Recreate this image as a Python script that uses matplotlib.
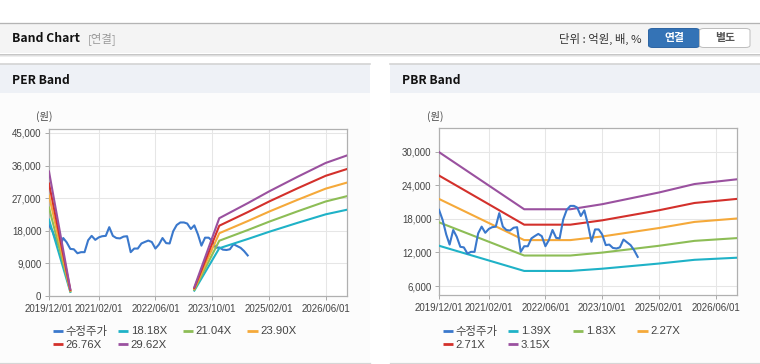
import matplotlib
matplotlib.use('Agg')
import matplotlib.pyplot as plt
import matplotlib.dates as mdates
from matplotlib.patches import Rectangle, FancyBboxPatch
from matplotlib.lines import Line2D
from matplotlib.ticker import FuncFormatter
import numpy as np
import pandas as pd

plt.rcParams['font.family'] = ['Liberation Sans', 'Noto Sans CJK KR', 'DejaVu Sans']

# ---------------- data ----------------
price_start = '2019-12-01'
price = [19600, 17800, 15200, 13400, 16000, 14800, 13000, 12900, 11800, 12100,
         12100, 15400, 16600, 15500, 16200, 16500, 16600, 19000, 16600, 16000,
         15900, 16400, 16500, 12100, 13100, 13100, 14500, 14900, 15300, 14900,
         13100, 14200, 16000, 14600, 14500, 17900, 19600, 20300, 20300, 20000,
         18500, 19500, 17000, 13900, 16100, 16100, 15200, 13300, 13400, 12800,
         12700, 12900, 14300, 13800, 13300, 12400, 11200]

per_dates = ['2019-12-01', '2020-06-01', '2020-07-01', '2023-05-01', '2023-12-01',
             '2024-08-01', '2025-02-01', '2025-10-01', '2026-06-01', '2026-12-01']
eps = [1160, 62, np.nan, 82, 725, 865, 975, 1110, 1240, 1310]
per_mult = [18.18, 21.04, 23.90, 26.76, 29.62]
per_labels = ['수정주가', '18.18X', '21.04X', '23.90X', '26.76X', '29.62X']

pbr_dates = ['2019-12-01', '2021-12-01', '2023-01-01', '2023-10-01',
             '2025-02-01', '2025-12-01', '2026-12-01']
bps = [9490, 6254, 6254, 6540, 7206, 7683, 7952]
pbr_mult = [1.39, 1.83, 2.27, 2.71, 3.15]
pbr_labels = ['수정주가', '1.39X', '1.83X', '2.27X', '2.71X', '3.15X']

xtick_dates = ['2019-12-01', '2021-02-01', '2022-06-01', '2023-10-01', '2025-02-01', '2026-06-01']
per_yticks = [0, 9000, 18000, 27000, 36000, 45000]
pbr_yticks = [6000, 12000, 18000, 24000, 30000]

colors = ['#3a78cc', '#1fb2c7', '#8dbd56', '#f5a93a', '#d3302b', '#9a519f']

# ---------------- figure ----------------
W, H = 760, 364
fig = plt.figure(figsize=(W / 100, H / 100), dpi=100)
fig.patch.set_facecolor('white')

BOLD = ['Noto Sans CJK KR', 'DejaVu Sans']


def fx(x):
    return x / W


def fy(y):
    return 1 - y / H


def rect(x0, y0, x1, y1, z=-5, **kw):
    fig.add_artist(Rectangle((fx(x0), fy(y1)), (x1 - x0) / W, (y1 - y0) / H,
                             transform=fig.transFigure, zorder=z, **kw))


def hline(x0, x1, y, color, lw=1.0, z=-4):
    fig.add_artist(Line2D([fx(x0), fx(x1)], [fy(y), fy(y)], color=color, lw=lw * 0.72,
                          transform=fig.transFigure, zorder=z))


# header bar
hline(0, 760, 22.5, '#b4b4b4', 1.3)
rect(0, 23, 760, 53, facecolor='#f4f4f4', edgecolor='none')
hline(0, 760, 53.5, '#c6c6c6', 1)
hline(0, 760, 54.5, '#dedede', 1)
hline(0, 760, 55.5, '#eeeeee', 1)

fig.text(fx(12), fy(38), 'Band Chart', fontsize=8.8, fontweight='bold', color='#111',
         family=BOLD, va='center', ha='left')
fig.text(fx(88), fy(38.5), '[연결]', fontsize=8.2, color='#999999',
         family=['Noto Sans CJK KR'], va='center', ha='left')
fig.text(fx(642), fy(38.5), '단위 : 억원, 배, %', fontsize=8.2, color='#333333',
         family=['Noto Sans CJK KR'], va='center', ha='right')

# buttons
fig.add_artist(FancyBboxPatch((fx(648.5), fy(47.5)), (699.5 - 648.5) / W, (47.5 - 28.5) / H,
                              boxstyle='round,pad=0,rounding_size=0.006',
                              transform=fig.transFigure, facecolor='#3473b6',
                              edgecolor='#2c64a3', lw=0.7, zorder=2))
fig.add_artist(FancyBboxPatch((fx(699.5), fy(47.5)), (750 - 699.5) / W, (47.5 - 28.5) / H,
                              boxstyle='round,pad=0,rounding_size=0.006',
                              transform=fig.transFigure, facecolor='white',
                              edgecolor='#bdbdbd', lw=0.7, zorder=2))
fig.text(fx(674), fy(38.5), '연결', fontsize=7.8, fontweight='bold', color='white',
         family=BOLD, va='center', ha='center', zorder=3)
fig.text(fx(725), fy(38.5), '별도', fontsize=7.8, fontweight='bold', color='#555555',
         family=BOLD, va='center', ha='center', zorder=3)

# panels
for (px0, px1, title) in [(0, 370, 'PER Band'), (390, 760, 'PBR Band')]:
    rect(px0, 64, px1, 93, facecolor='#eef1f6', edgecolor='none')
    hline(px0, px1, 64, '#d2d2d2', 1.6)
    rect(px0, 93, px1, 362, facecolor='#fcfcfc', edgecolor='none')
    hline(px0, px1, 362.5, '#d6d6d6', 1.3)
    fig.text(fx(px0 + 12), fy(80), title, fontsize=8.7, fontweight='bold', color='#111',
             family=BOLD, va='center', ha='left')

# ---------------- axes ----------------
price_dates = pd.date_range(price_start, periods=len(price), freq='MS')
xmin = pd.Timestamp('2019-12-01')
xmax = pd.Timestamp('2026-12-01')


def make_ax(l, r, t, b):
    return fig.add_axes([fx(l), fy(b), (r - l) / W, (b - t) / H])


def style(ax, yticks, ylim):
    ax.set_facecolor('white')
    ax.set_xlim(xmin, xmax)
    ax.set_ylim(*ylim)
    ax.set_xticks(pd.to_datetime(xtick_dates))
    ax.xaxis.set_major_formatter(mdates.DateFormatter('%Y/%m/%d'))
    ax.set_yticks(yticks)
    ax.yaxis.set_major_formatter(FuncFormatter(lambda v, p: f'{int(v):,}'))
    ax.grid(True, color='#e6e6e6', lw=0.75)
    ax.set_axisbelow(True)
    for s in ax.spines.values():
        s.set_color('#b0b0b0')
        s.set_linewidth(0.9)
    ax.tick_params(axis='both', labelsize=7.0, colors='#aaaaaa', labelcolor='#444444',
                   length=3, width=0.7)
    ax.tick_params(axis='x', pad=2.5)
    ax.tick_params(axis='y', pad=2.5)


ax1 = make_ax(49, 347, 129, 296)
style(ax1, per_yticks, (0, 46100))
ax1.plot(price_dates, price, color=colors[0], lw=1.5, zorder=3)
per_d = pd.to_datetime(per_dates)
for i, m in enumerate(per_mult):
    ax1.plot(per_d, np.array(eps) * m, color=colors[i + 1], lw=1.5, zorder=4 + i)

ax2 = make_ax(439, 737, 128, 295)
style(ax2, pbr_yticks, (4400, 34200))
ax2.plot(price_dates, price, color=colors[0], lw=1.5, zorder=9)
pbr_d = pd.to_datetime(pbr_dates)
for i, m in enumerate(pbr_mult):
    ax2.plot(pbr_d, np.array(bps) * m, color=colors[i + 1], lw=1.5, zorder=3 + i)

for xc in (44, 435):
    fig.text(fx(xc), fy(116), '(원)', fontsize=7.4, color='#444444',
             family=['Noto Sans CJK KR'], va='center', ha='center')

# ---------------- legends ----------------
def legend(x0, labels):
    offs = [0, 65, 130, 194.5]
    for i, lab in enumerate(labels):
        row, col = divmod(i, 4)
        y = 330.5 if row == 0 else 344
        xs = x0 + offs[col]
        fig.add_artist(Line2D([fx(xs), fx(xs + 10.5)], [fy(y), fy(y)], color=colors[i],
                              lw=2.0, transform=fig.transFigure, solid_capstyle='butt'))
        fig.text(fx(xs + 13), fy(y + 0.5), lab, fontsize=8.2, color='#444444',
                 va='center', ha='left')


legend(52.8, per_labels)
legend(442.8, pbr_labels)

fig.savefig('out.png', dpi=100)
